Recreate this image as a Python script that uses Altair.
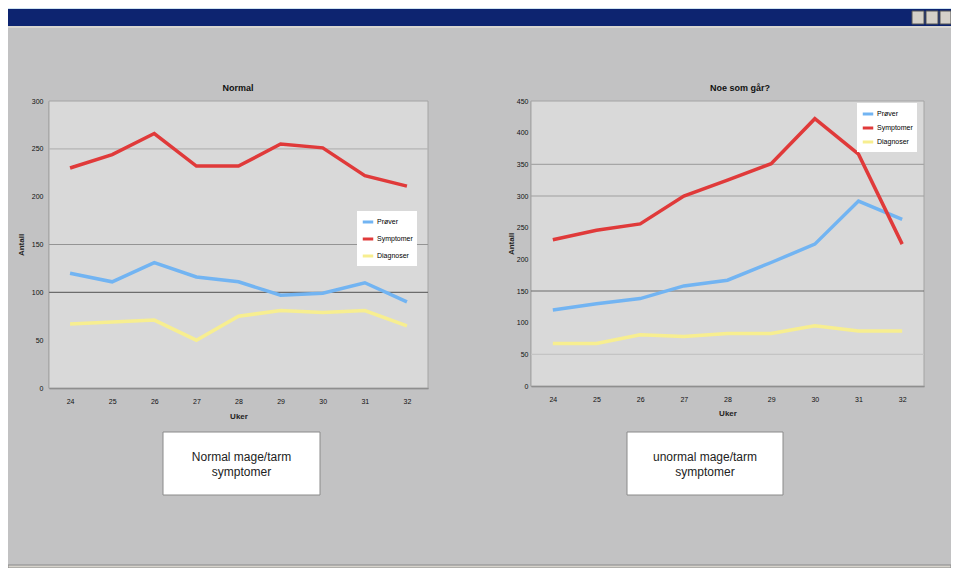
import altair as alt
import pandas as pd

# ---- data ----
uker = ["24", "25", "26", "27", "28", "29", "30", "31", "32"]
serier = ["Prøver", "Symptomer", "Diagnoser"]

normal_prover = [120, 111, 131, 116, 111, 97, 99, 110, 90]
normal_symptomer = [230, 244, 266, 232, 232, 255, 251, 222, 211]
normal_diagnoser = [67, 69, 71, 50, 75, 81, 79, 81, 65]

unormal_prover = [120, 130, 138, 158, 167, 195, 224, 292, 263]
unormal_symptomer = [231, 246, 256, 300, 325, 351, 422, 366, 224]
unormal_diagnoser = [67, 67, 81, 78, 83, 83, 95, 87, 87]

left_ticks = [0, 50, 100, 150, 200, 250, 300]
right_ticks = [0, 50, 100, 150, 200, 250, 300, 350, 400, 450]
left_grid = [250, 150, 100]
left_grid_col = ["#b4b4b4", "#949494", "#6c6c6c"]
right_grid = [350, 300, 150, 50]
right_grid_col = ["#a6a6a6", "#a0a0a0", "#6c6c6c", "#c4c4c4"]

farger = ["#72b4f2", "#e03a3a", "#f7ee90"]


def long(p, s, d):
    rows = []
    for name, vals in zip(serier, [p, s, d]):
        for u, v in zip(uker, vals):
            rows.append({"uke": u, "serie": name, "verdi": v})
    return pd.DataFrame(rows)


one = alt.Data(values=[{}])
W, H = 943, 560


def panel(df, x0, x1, y0, y1, ymax, ticks, grid, gridcol, title, tx,
          legx, legy, legpad, box, boxtext, ylabpad, ytitlepad, xtitlepad):
    xs = alt.Scale(type="point", range=[x0, x1], padding=0.5)
    ys = alt.Scale(domain=[0, ymax], range=[y1, y0], nice=False)
    yaxis = alt.Axis(orient="left", offset=-x0, values=ticks,
                     labelFontSize=7, labelColor="#111", labelPadding=ylabpad,
                     ticks=False, grid=False, domainColor="#7a7a7a",
                     domainWidth=1.5, title="Antall", titleFontSize=8,
                     titleColor="#222", titlePadding=ytitlepad)
    bg = alt.Chart(one).mark_rect(fill="#d9d9d9", stroke="#a4a4a4", strokeWidth=1).encode(
        x=alt.value(x0), x2=alt.value(x1), y=alt.value(y0), y2=alt.value(y1))
    rules = []
    for v, c in zip(grid, gridcol):
        rules.append(alt.Chart(pd.DataFrame({"verdi": [v]})).mark_rule(
            strokeWidth=1.2, color=c).encode(
            x=alt.value(x0), x2=alt.value(x1),
            y=alt.Y("verdi:Q", scale=ys, axis=yaxis)))
    lines = alt.Chart(df).mark_line(strokeWidth=3.5).encode(
        x=alt.X("uke:O", scale=xs, sort=uker,
                axis=alt.Axis(orient="bottom", offset=y1 - H, labelAngle=0,
                              labelFontSize=7, labelColor="#111", labelPadding=9,
                              ticks=False, grid=False, domainColor="#7a7a7a",
                              domainWidth=1.5, title="Uker", titleFontSize=8,
                              titleColor="#222", titlePadding=xtitlepad)),
        y=alt.Y("verdi:Q", scale=ys, axis=yaxis),
        color=alt.Color("serie:N", sort=serier,
                        scale=alt.Scale(domain=serier, range=farger),
                        legend=alt.Legend(orient="none", legendX=legx, legendY=legy,
                                          title=None, fillColor="white",
                                          padding=4, labelFontSize=7,
                                          symbolType="stroke", symbolStrokeWidth=3,
                                          symbolSize=110, rowPadding=legpad,
                                          labelOffset=2)),
    )
    ttl = alt.Chart(one).mark_text(fontSize=9, fontWeight="bold", font="Liberation Sans",
                                   color="#111").encode(
        x=alt.value(tx), y=alt.value(y0 - 13), text=alt.value(title))
    brect = alt.Chart(one).mark_rect(fill="white", stroke="#8a8a8a", strokeWidth=1).encode(
        x=alt.value(box[0]), x2=alt.value(box[1]), y=alt.value(424), y2=alt.value(487))
    cx = (box[0] + box[1]) / 2
    t1 = alt.Chart(one).mark_text(fontSize=12, font="Liberation Sans", color="#222").encode(
        x=alt.value(cx), y=alt.value(449), text=alt.value(boxtext[0]))
    t2 = alt.Chart(one).mark_text(fontSize=12, font="Liberation Sans", color="#222").encode(
        x=alt.value(cx), y=alt.value(464), text=alt.value(boxtext[1]))
    return alt.layer(bg, *rules, lines, ttl, brect, t1, t2)


left = panel(long(normal_prover, normal_symptomer, normal_diagnoser),
             41, 420, 93, 380, 300, left_ticks, left_grid, left_grid_col,
             "Normal", 230, 349, 203, 4, (155, 312),
             ["Normal mage/tarm", "symptomer"], 6, 6, 8)
right = panel(long(unormal_prover, unormal_symptomer, unormal_diagnoser),
              523, 916, 93, 378, 450, right_ticks, right_grid, right_grid_col,
              "Noe som går?", 732, 849, 95, 1, (619, 775),
              ["unormal mage/tarm", "symptomer"], 3, 1, 7)


def deco(x0, x1, y0, y1, fill, stroke=None):
    kw = {"fill": fill}
    if stroke:
        kw["stroke"] = stroke
        kw["strokeWidth"] = 1
    return alt.Chart(one).mark_rect(**kw).encode(
        x=alt.value(x0), x2=alt.value(x1), y=alt.value(y0), y2=alt.value(y1))


frame = alt.layer(
    deco(0, W, 0, 1, "#cfe3f0"),
    deco(0, W, 1, 18, "#0d2470"),
    deco(0, W, 18, 20, "#d8d6d0"),
    deco(904, 916, 3, 16, "#d4d0c8", "#555"),
    deco(918, 930, 3, 16, "#d4d0c8", "#555"),
    deco(932, W, 3, 16, "#d4d0c8", "#555"),
    deco(0, W, 557, H, "#d6d3cc", "#8a8a8a"),
)

chart = alt.layer(frame, left, right).resolve_scale(
    x="independent", y="independent", color="independent"
).properties(
    width=W, height=H,
    autosize=alt.AutoSizeParams(type="none"),
    padding=0,
    background="#c2c2c3",
).configure_view(stroke=None)

chart.save("out.html", embed_options={"renderer": "svg", "actions": False})
